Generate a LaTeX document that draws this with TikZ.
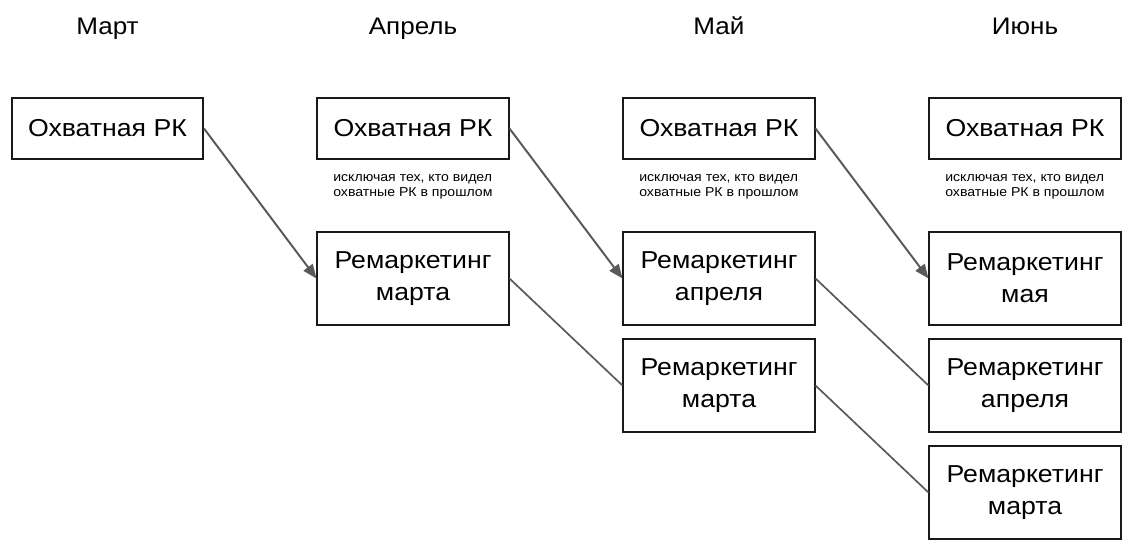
\documentclass[tikz,border=0pt]{standalone}
\usepackage{fontspec}
\setmainfont{Liberation Sans}[FakeStretch=1.09]
\usetikzlibrary{arrows.meta}
\tikzset{rk/.style={draw=black!90,line width=1.4pt,minimum width=4.775cm,minimum height=1.525cm,inner sep=0pt,font=\fontsize{17.4}{22.8}\selectfont,align=center}}
\tikzset{rem/.style={rk,minimum height=2.325cm}}
\tikzset{mon/.style={font=\fontsize{17}{17}\selectfont,anchor=base,inner sep=0pt}}
\tikzset{sm/.style={font=\fontsize{9.2}{10}\selectfont,align=left,anchor=base west,inner sep=0pt}}
\tikzset{arr/.style={draw=black!65,line width=1.4pt,-{Triangle[length=10pt,width=8pt]}}}
\tikzset{lnk/.style={draw=black!65,line width=1.2pt}}

\begin{document}
\begin{tikzpicture}[x=0.025cm,y=-0.025cm]
\useasboundingbox (0,0) rectangle (1134,553);
% months
\node[mon] (m1) at (107.5,34.5) {Март};
\node[mon] (m2) at (413,34.5) {Апрель};
\node[mon] (m3) at (719,34.5) {Май};
\node[mon] (m4) at (1025,34.5) {Июнь};
% reach campaigns
\node[rk] (o1) at (107.5,128.5) {Охватная РК};
\node[rk] (o2) at (413,128.5) {Охватная РК};
\node[rk] (o3) at (719,128.5) {Охватная РК};
\node[rk] (o4) at (1025,128.5) {Охватная РК};
\node[sm] (n2) at (333,196) {исключая тех, кто видел\\охватные РК в прошлом};
\node[sm] (n3) at (639,196) {исключая тех, кто видел\\охватные РК в прошлом};
\node[sm] (n4) at (945,196) {исключая тех, кто видел\\охватные РК в прошлом};
% remarketing
\node[rem] (r2a) at (413,278.5) {Ремаркетинг\\марта};
\node[rem] (r3a) at (719,278.5) {Ремаркетинг\\апреля};
\node[rem] (r3b) at (719,385.5) {Ремаркетинг\\марта};
\node[rem] (r4a) at (1025,278.5) {Ремаркетинг\\мая};
\node[rem] (r4b) at (1025,385.5) {Ремаркетинг\\апреля};
\node[rem] (r4c) at (1025,492.5) {Ремаркетинг\\марта};
% links
\draw[arr] (o1.east) -- (r2a.west);
\draw[arr] (o2.east) -- (r3a.west);
\draw[arr] (o3.east) -- (r4a.west);
\draw[lnk] (r2a.east) -- (r3b.west);
\draw[lnk] (r3a.east) -- (r4b.west);
\draw[lnk] (r3b.east) -- (r4c.west);
\end{tikzpicture}
\end{document}
